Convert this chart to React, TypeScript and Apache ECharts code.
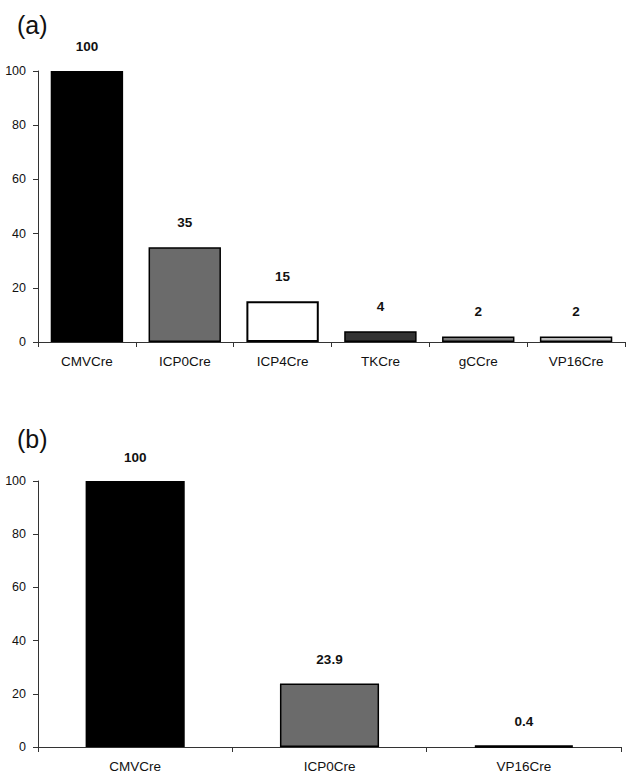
import React, { useEffect, useRef } from "react";
import * as echarts from "echarts";

const categoriesA = ["CMVCre", "ICP0Cre", "ICP4Cre", "TKCre", "gCCre", "VP16Cre"];
const valuesA = [100, 35, 15, 4, 2, 2];
const colorsA = ["#000000", "#6b6b6b", "#ffffff", "#333333", "#7a7a7a", "#bdbdbd"];
const bordersA = [1.5, 1.5, 2, 1.5, 1.5, 1.5];

const categoriesB = ["CMVCre", "ICP0Cre", "VP16Cre"];
const valuesB = [100, 23.9, 0.4];
const colorsB = ["#000000", "#6b6b6b", "#000000"];
const bordersB = [1.5, 1.5, 2.5];

const yTicks = [0, 20, 40, 60, 80, 100];

export default function App() {
  const ref = useRef<HTMLDivElement>(null);
  useEffect(() => {
    if (!ref.current) return;
    const chart = echarts.init(ref.current, null, { renderer: "svg" });
    const font = "Liberation Sans, Arial, sans-serif";
    const axisLine = { show: true, lineStyle: { color: "#333", width: 1 } };
    const mkX = (cats: string[], gi: number) => ({
      type: "category",
      gridIndex: gi,
      data: cats,
      axisLine,
      axisTick: { show: true, length: 5, lineStyle: { color: "#333" } },
      axisLabel: { fontSize: 13.5, color: "#111", fontFamily: font, margin: 12 },
    });
    const mkY = (gi: number) => ({
      type: "value",
      gridIndex: gi,
      min: yTicks[0],
      max: yTicks[yTicks.length - 1],
      interval: 20,
      axisLine,
      axisTick: { show: true, length: 5, lineStyle: { color: "#333" } },
      axisLabel: { fontSize: 12.5, color: "#111", fontFamily: font, margin: 12 },
      splitLine: { show: false },
    });
    const label = {
      show: true,
      position: "top",
      distance: 18,
      fontWeight: "bold",
      fontSize: 13.5,
      color: "#111",
      fontFamily: font,
    };
    chart.setOption({
      animation: false,
      backgroundColor: "#ffffff",
      title: [
        { text: "(a)", left: 12, top: 7, textStyle: { fontSize: 25, fontWeight: "normal", color: "#111", fontFamily: font } },
        { text: "(b)", left: 12, top: 421, textStyle: { fontSize: 25, fontWeight: "normal", color: "#111", fontFamily: font } },
      ],
      grid: [
        { left: 38, right: 5, top: 71, height: 271 },
        { left: 38, right: 9, top: 481, height: 268 },
      ],
      xAxis: [mkX(categoriesA, 0), mkX(categoriesB, 1)],
      yAxis: [mkY(0), mkY(1)],
      series: [
        {
          type: "bar",
          xAxisIndex: 0,
          yAxisIndex: 0,
          barCategoryGap: "26%",
          data: valuesA.map((v, i) => ({
            value: v,
            itemStyle: { color: colorsA[i], borderColor: "#000", borderWidth: bordersA[i] },
          })),
          label,
        },
        {
          type: "bar",
          xAxisIndex: 1,
          yAxisIndex: 1,
          barCategoryGap: "49%",
          data: valuesB.map((v, i) => ({
            value: v,
            itemStyle: { color: colorsB[i], borderColor: "#000", borderWidth: bordersB[i] },
          })),
          label: { ...label, distance: 17 },
        },
      ],
    });
    return () => chart.dispose();
  }, []);
  return (
    <div
      ref={ref}
      style={{ position: "fixed", left: 0, top: 0, width: 630, height: 773, background: "#fff" }}
    />
  );
}
